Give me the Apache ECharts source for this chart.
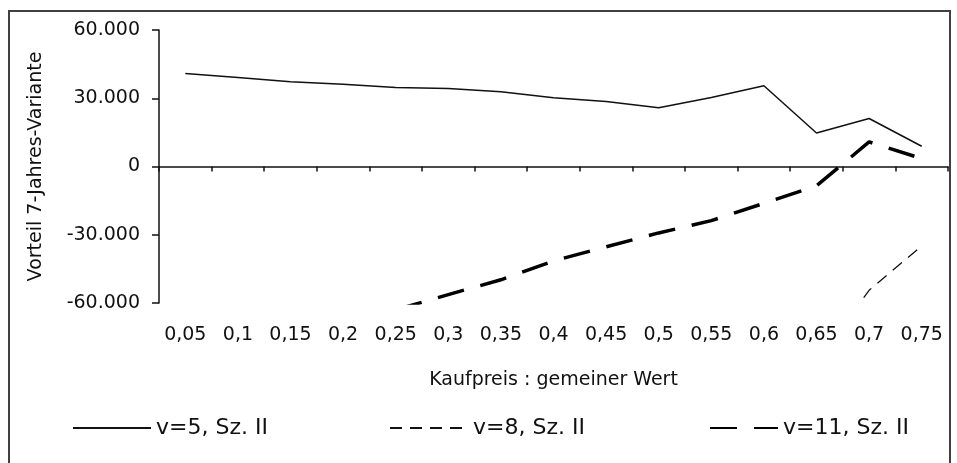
<!DOCTYPE html>
<html><head><meta charset="utf-8">
<script src="https://cdn.jsdelivr.net/npm/echarts@6/dist/echarts.min.js"></script>
<style>html,body{margin:0;padding:0;background:#fff}#c{width:957px;height:463px}</style>
</head><body><div id="c"></div>
<script>
// ---- data ----
const categories = ['0,05','0,1','0,15','0,2','0,25','0,3','0,35','0,4','0,45','0,5','0,55','0,6','0,65','0,7','0,75'];
const seriesNames = ['v=5, Sz. II', 'v=8, Sz. II', 'v=11, Sz. II'];
const v5  = [40900, 39100, 37300, 36200, 34700, 34300, 32900, 30200, 28600, 25800, 30300, 35500, 14700, 21100, 8900];
const v8  = [null, null, null, null, null, null, null, null, null, null, null, null, -86000, -54400, -34900];
const v11 = [null, null, null, null, -63000, -56300, -49800, -41500, -35300, -29200, -23800, -16200, -8500, 10800, 3500];
const yMin = -60000, yMax = 60000, yStep = 30000;
const xTitle = 'Kaufpreis : gemeiner Wert';
const yTitle = 'Vorteil 7-Jahres-Variante';

const FONT = 'DejaVu Sans';
const INK = '#111';
function deNum(v) {
  const s = Math.abs(v).toString().replace(/\B(?=(\d{3})+(?!\d))/g, '.');
  return (v < 0 ? '-' : '') + s;
}
const chart = echarts.init(document.getElementById('c'), null, {renderer: 'canvas'});
const legendBase = {
  top: 417, padding: 0, itemWidth: 78, itemHeight: 14, itemGap: 0,
  icon: 'inherit',
  itemStyle: {opacity: 0},
  textStyle: {fontFamily: FONT, fontSize: 22, color: INK}
};
chart.setOption({
  animation: false,
  backgroundColor: '#fff',
  graphic: [{
    type: 'rect', silent: true, z: -1,
    shape: {x: 9, y: 11, width: 941, height: 470},
    style: {fill: 'none', stroke: '#404040', lineWidth: 2}
  }],
  grid: {left: 159, right: 9, top: 30, bottom: 160, containLabel: false, outerBoundsMode: 'none'},
  legend: [
    Object.assign({}, legendBase, {left: 72, data: [seriesNames[0]]}),
    Object.assign({}, legendBase, {left: 389, data: [seriesNames[1]]}),
    Object.assign({}, legendBase, {left: 709, itemWidth: 68, data: [seriesNames[2]]})
  ],
  xAxis: [{
    type: 'category', data: categories, boundaryGap: true,
    axisLine: {show: true, onZero: true, lineStyle: {color: INK, width: 1.5}},
    axisTick: {show: true, length: 5, lineStyle: {color: INK, width: 1.5}},
    axisLabel: {show: false},
    splitLine: {show: false}
  }, {
    type: 'category', data: categories, boundaryGap: true, position: 'bottom',
    axisLine: {show: false, onZero: false},
    axisTick: {show: false},
    axisLabel: {show: true, interval: 0, margin: 23, fontFamily: FONT, fontSize: 19, color: INK},
    splitLine: {show: false},
    name: xTitle, nameLocation: 'middle', nameGap: 68,
    nameTextStyle: {fontFamily: FONT, fontSize: 19, color: INK}
  }],
  yAxis: {
    type: 'value', min: yMin, max: yMax, interval: yStep,
    axisLine: {show: true, lineStyle: {color: INK, width: 1.5}},
    axisTick: {show: true, length: 7, lineStyle: {color: INK, width: 1.5}},
    axisLabel: {margin: 19, fontFamily: FONT, fontSize: 19, color: INK, formatter: deNum},
    splitLine: {show: false},
    name: yTitle, nameLocation: 'middle', nameGap: 113, nameRotate: 90,
    nameTextStyle: {fontFamily: FONT, fontSize: 19, color: INK}
  },
  series: [
    {name: seriesNames[0], type: 'line', xAxisIndex: 0, data: v5, symbol: 'none', showSymbol: false,
     lineStyle: {color: '#111', width: 1.5, type: 'solid'}, itemStyle: {color: '#111'}},
    {name: seriesNames[1], type: 'line', xAxisIndex: 0, data: v8, symbol: 'none', showSymbol: false,
     lineStyle: {color: '#111', width: 1.3, type: [12, 8]}, itemStyle: {color: '#111'}},
    {name: seriesNames[2], type: 'line', xAxisIndex: 0, data: v11, symbol: 'none', showSymbol: false,
     lineStyle: {color: '#000', width: 3.5, type: [27, 17]}, itemStyle: {color: '#000'}}
  ]
});
</script></body></html>
